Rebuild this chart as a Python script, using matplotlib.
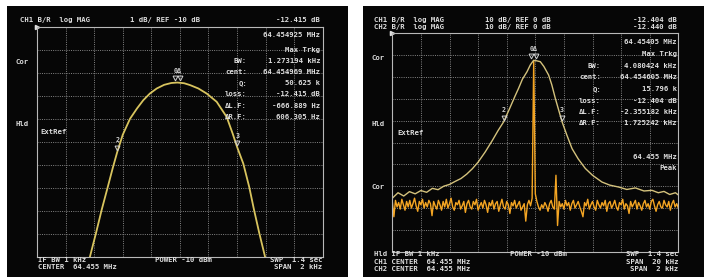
import numpy as np
import matplotlib
matplotlib.use("Agg")
import matplotlib.pyplot as plt
from matplotlib.patches import Rectangle
from matplotlib.transforms import offset_copy

# ---- данные ----
# левый экран: 1 dB/div, REF -10 dB, SPAN 2 kHz (смещение от 64.455 MHz, Hz)
left_hz = [-629, -587, -547, -505, -470, -438, -400, -349, -300, -256, -210, -162,
           -110, -60, -18, 30, 71, 130, 188, 258, 328, 370, 402, 444, 486, 519, 556, 596]
left_db = [-20.0, -18.98, -17.96, -16.98, -16.15, -15.44, -14.7, -14.0, -13.55, -13.19,
           -12.9, -12.68, -12.52, -12.44, -12.42, -12.45, -12.53, -12.68, -12.9, -13.26,
           -13.92, -14.65, -15.25, -15.95, -16.98, -17.96, -18.98, -20.0]
left_mk_hz = [-18, -438, 402]
left_mk_db = [-12.42, -15.44, -15.25]
left_mk_lab = ["0Δ", "2", "3"]

# правый экран: 10 dB/div, REF 0 dB, CH1 SPAN 20 kHz (kHz)
ch1_khz = [-10.0, -9.6, -9.2, -8.8, -8.4, -8.0, -7.6, -7.2, -6.8, -6.4, -6.0, -5.6, -5.2,
           -4.8, -4.4, -4.0, -3.5, -3.0, -2.6, -2.21, -1.8, -1.4, -1.17, -0.9, -0.58, -0.35,
           -0.12, 0.1, 0.35, 0.6, 0.93, 1.15, 1.4, 1.65, 1.87, 2.2, 2.57, 3.0, 3.5, 4.0,
           4.66, 5.2, 5.83, 6.4, 7.0, 7.6, 8.16, 8.6, 9.0, 9.4, 9.8, 10.0]
ch1_db = [-75.5, -73.0, -74.5, -72.5, -73.5, -72.0, -72.8, -71.0, -71.6, -70.0, -69.2, -67.8,
          -66.5, -64.5, -62.0, -59.0, -54.3, -49.0, -44.5, -40.5, -34.5, -28.5, -25.2, -21.0,
          -17.6, -14.5, -12.4, -12.6, -13.0, -15.2, -19.1, -23.5, -29.8, -35.5, -40.5, -46.5,
          -52.8, -57.5, -61.9, -65.0, -68.1, -69.5, -70.4, -71.5, -70.8, -72.2, -71.9, -73.0,
          -72.4, -73.8, -73.0, -74.0]
# CH2 (шумовая дорожка), 181 точка развертки по всей ширине экрана
ch2_db = [-77.0, -84.0, -76.5, -79.5, -77.5, -80.5, -76.0, -78.5, -81.0, -77.0,
          -79.5, -76.5, -80.0, -78.0, -75.5, -79.0, -81.5, -77.0, -78.5, -76.0,
          -80.0, -77.5, -79.5, -76.5, -78.0, -83.5, -77.0, -79.0, -80.5, -76.5,
          -78.5, -81.0, -77.0, -79.5, -76.0, -80.0, -78.0, -75.5, -79.5, -81.0,
          -77.5, -78.5, -76.5, -80.5, -79.0, -77.0, -82.0, -78.0, -76.5, -79.5,
          -80.5, -77.0, -78.5, -76.0, -81.0, -79.0, -77.5, -80.0, -76.5, -78.5,
          -82.0, -77.5, -79.0, -76.5, -80.5, -78.0, -77.0, -81.5, -78.5, -76.0,
          -79.5, -80.5, -77.0, -78.5, -82.5, -77.5, -79.0, -76.5, -80.0, -78.5,
          -77.0, -81.0, -79.5, -78.0, -86.0, -78.5, -76.5, -79.0, -75.5, -12.4,
          -73.5, -77.0, -79.5, -81.0, -78.5, -80.0, -77.5, -79.0, -81.5, -78.0,
          -76.5, -79.5, -80.5, -65.0, -88.0, -77.0, -79.5, -78.0, -80.5, -76.5,
          -79.0, -77.5, -81.0, -78.0, -76.5, -80.0, -78.5, -77.0, -79.5, -81.5,
          -84.0, -77.5, -79.0, -76.0, -80.5, -78.5, -77.0, -79.5, -81.0, -76.5,
          -78.5, -80.0, -77.5, -79.0, -76.5, -81.5, -78.0, -77.0, -80.0, -78.5,
          -76.5, -79.5, -81.0, -77.5, -78.5, -76.0, -80.5, -78.0, -79.0, -82.5,
          -77.0, -79.5, -78.0, -76.5, -80.5, -77.5, -79.0, -81.0, -78.0, -76.5,
          -79.5, -78.0, -80.5, -77.0, -76.0, -79.0, -81.5, -78.5, -77.0, -79.5,
          -80.0, -76.5, -78.5, -79.5, -77.0, -81.0, -78.0, -76.5, -79.5, -78.0,
          -80.0]
ch2_khz = np.linspace(-10, 10, len(ch2_db))
right_mk_khz = [-0.12, -2.21, 1.87]
right_mk_db = [-12.4, -40.5, -40.5]
right_mk_lab = ["0Δ", "2", "3"]

W, H = 704, 277
TXT = '#dedede'
GRID = '#858585'


def fx(x):
    return x / W


def fy(y):
    return 1 - y / H


fig = plt.figure(figsize=(W / 100, H / 100), dpi=100)
fig.patch.set_facecolor('white')

# черные "экраны" (под осями)
for x0 in (7, 363):
    fig.patches.append(Rectangle((fx(x0), 0), fx(341), fy(6), transform=fig.transFigure,
                                 facecolor='#060606', edgecolor='none', zorder=-10))


def screen_axes(x0, y0, x1, y1, xlim, ylim):
    ax = fig.add_axes([fx(x0), fy(y1), fx(x1 - x0), (y1 - y0) / H])
    ax.set_zorder(2)
    ax.set_facecolor('none')
    ax.set_xlim(*xlim)
    ax.set_ylim(*ylim)
    ax.set_xticks(np.linspace(xlim[0], xlim[1], 11))
    ax.set_yticks(np.linspace(ylim[0], ylim[1], 11))
    ax.tick_params(length=0, labelbottom=False, labelleft=False)
    ax.grid(True, color=GRID, linestyle=(0, (1, 1.3)), linewidth=0.7)
    for s in ax.spines.values():
        s.set_color('#b8b8b8')
        s.set_linewidth(0.8)
    # значок опорного уровня в левом верхнем углу
    ax.plot([0], [1], marker='>', ms=3, color='#e0e0e0', transform=ax.transAxes,
            clip_on=False)
    return ax


def draw_markers(ax, xs, ys, labels):
    for x, y, lab in zip(xs, ys, labels):
        shifts = [-2, 2] if lab.startswith('0') else [0]
        for dx in shifts:
            tr = offset_copy(ax.transData, fig=fig, x=dx, y=3, units='points')
            ax.plot([x], [y], 'v', ms=3.5, mfc='none', mec='#d0d0d0', mew=0.7,
                    transform=tr)
        ax.annotate(lab, (x, y), xytext=(0, 8.5), textcoords='offset points', ha='center',
                    va='center', fontsize=4.8, color='#d0d0d0', family='DejaVu Sans Mono',
                    weight='bold')


def t(x, y, s, ha='left'):
    fig.text(fx(x), fy(y), s, ha=ha, va='center', fontsize=5.2, color=TXT,
             family='DejaVu Sans Mono', weight='bold')


# ---- левый экран ----
ax1 = screen_axes(37, 27, 322.7, 256.5, (-1000, 1000), (-20, -10))
ax1.plot(left_hz, left_db, color='#d8c45e', lw=1.3)
draw_markers(ax1, left_mk_hz, left_mk_db, left_mk_lab)

t(20, 20, "CH1 B/R  log MAG")
t(130, 20, "1 dB/ REF -10 dB")
t(320, 20, "-12.415 dB", 'right')
t(320, 35, "64.454925 MHz", 'right')
t(320, 50, "Max Trkg", 'right')
for yy, lab, val in [(61, "BW:", "1.273194 kHz"), (72, "cent:", "64.454969 MHz"),
                     (83, "Q:", "50.625 k"), (94, "loss:", "-12.415 dB"),
                     (106, "ΔL.F:", "-666.889 Hz"), (117, "ΔR.F:", "606.305 Hz")]:
    t(247, yy, lab, 'right')
    t(320, yy, val, 'right')
t(16, 62, "Cor")
t(16, 124, "Hld")
t(40, 132, "ExtRef")
t(38, 260, "IF BW 1 kHz")
t(38, 267, "CENTER  64.455 MHz")
t(155, 260, "POWER -10 dBm")
t(322, 260, "SWP  1.4 sec", 'right')
t(322, 267, "SPAN  2 kHz", 'right')

# ---- правый экран ----
ax2 = screen_axes(392.3, 33.3, 678.3, 251.7, (-10, 10), (-100, 0))
ax2.plot(ch2_khz, ch2_db, color='#f4a523', lw=1.0)
ax2.plot(ch1_khz, ch1_db, color='#d4c27c', lw=1.0)
draw_markers(ax2, right_mk_khz, right_mk_db, right_mk_lab)

t(374, 20, "CH1 B/R  log MAG")
t(374, 27, "CH2 B/R  log MAG")
t(485, 20, "10 dB/ REF 0 dB")
t(485, 27, "10 dB/ REF 0 dB")
t(677, 20, "-12.404 dB", 'right')
t(677, 27, "-12.440 dB", 'right')
t(677, 42, "64.45405 MHz", 'right')
t(677, 54, "Max Trkg", 'right')
for yy, lab, val in [(66, "BW:", "4.080424 kHz"), (77, "cent:", "64.454605 MHz"),
                     (89, "Q:", "15.796 k"), (101, "loss:", "-12.404 dB"),
                     (112, "ΔL.F:", "-2.355182 kHz"), (123, "ΔR.F:", "1.725242 kHz")]:
    t(601, yy, lab, 'right')
    t(677, yy, val, 'right')
t(677, 157, "64.455 MHz", 'right')
t(677, 168, "Peak", 'right')
t(372, 58, "Cor")
t(372, 124, "Hld")
t(397, 133, "ExtRef")
t(372, 187, "Cor")
t(374, 254, "Hld IF BW 1 kHz")
t(374, 262, "CH1 CENTER  64.455 MHz")
t(374, 269, "CH2 CENTER  64.455 MHz")
t(510, 254, "POWER -10 dBm")
t(678, 254, "SWP  1.4 sec", 'right')
t(678, 262, "SPAN  20 kHz", 'right')
t(678, 269, "SPAN  2 kHz", 'right')

plt.savefig('out.png', dpi=100, facecolor='white')
